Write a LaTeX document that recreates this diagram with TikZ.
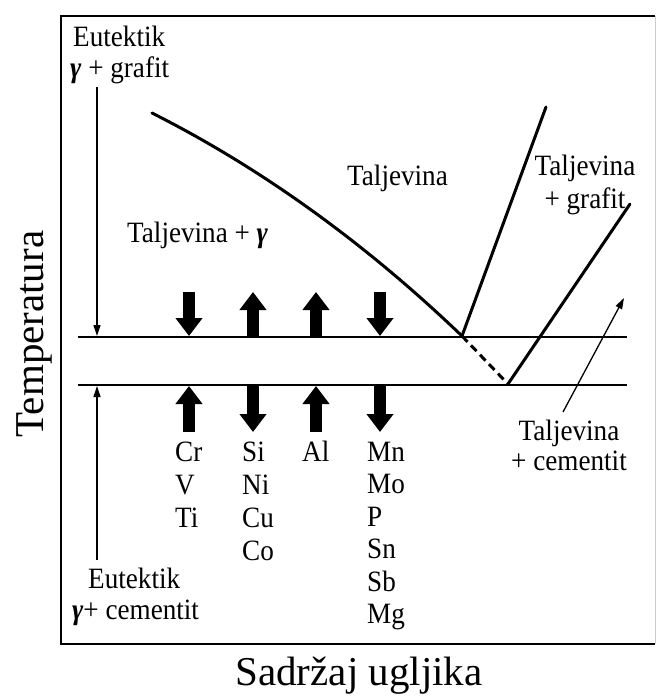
\documentclass[tikz,border=0pt]{standalone}
\usepackage{fontspec}
\setmainfont{Liberation Serif}
\newfontfamily\lblfont{Liberation Serif}[FakeStretch=0.92]
\usetikzlibrary{arrows.meta}
\begin{document}
\begin{tikzpicture}[x=1pt,y=-1pt,
  lbl/.style={font=\lblfont\fontsize{29.5}{33}\selectfont, inner sep=0pt, anchor=base west},
  lblc/.style={lbl, anchor=base},
  axislbl/.style={font=\fontsize{41}{49}\selectfont, inner sep=0pt, anchor=base},
  curve/.style={line width=3pt, line cap=round},
  level/.style={line width=2pt},
  blockarrow/.style={line width=12pt, -{Triangle[width=26pt,length=18pt]}},
  thinarrow/.style={line width=1.3pt, -{Triangle[width=7pt,length=11pt]}},
  frame/.style={line width=2.5pt}]
\useasboundingbox (0,0) rectangle (657,699);
\newcommand{\gam}{\textbf{\textit{γ}}}
% frame
\coordinate (fTR) at (655,16);
\coordinate (fTL) at (61,16);
\coordinate (fBL) at (61,644);
\coordinate (fBR) at (655,644);
\draw[frame] (fTR) -- (fTL) -- (fBL) -- (fBR);
\draw[line width=1pt, black!20] (fTR) -- (fBR);
% eutectic levels
\coordinate (gl) at (78,337);
\coordinate (gr) at (627,337);
\coordinate (cl) at (78,385);
\coordinate (cr) at (627,385);
\draw[level] (gl) -- (gr);
\draw[level] (cl) -- (cr);
% phase lines
\coordinate (ls) at (152,113);
\coordinate (ls1) at (259,167);
\coordinate (ls2) at (363,241);
\coordinate (eg) at (462,336);
\coordinate (gt) at (546,107);
\coordinate (ec) at (508,384);
\coordinate (ct) at (630,204);
\draw[curve] (ls) .. controls (ls1) and (ls2) .. (eg);
\draw[curve] (eg) -- (gt);
\draw[line width=3pt, dash pattern=on 8pt off 5pt] (eg) -- (ec);
\draw[curve] (ec) -- (ct);
% left thin arrows
\coordinate (a1s) at (97,87);
\coordinate (a1e) at (97,336);
\coordinate (a2s) at (97,560);
\coordinate (a2e) at (97,386);
\draw[thinarrow] (a1s) -- (a1e);
\draw[thinarrow] (a2s) -- (a2e);
% right thin arrow
\coordinate (r1s) at (563,412);
\coordinate (r1e) at (624,298);
\draw[thinarrow] (r1s) -- (r1e);
% block arrows
\coordinate (u1t) at (189,292); \coordinate (u1b) at (189,336);
\coordinate (u2t) at (253,292); \coordinate (u2b) at (253,336);
\coordinate (u3t) at (316,292); \coordinate (u3b) at (316,336);
\coordinate (u4t) at (380,292); \coordinate (u4b) at (380,336);
\coordinate (d1t) at (189,386); \coordinate (d1b) at (189,432);
\coordinate (d2t) at (253,386); \coordinate (d2b) at (253,432);
\coordinate (d3t) at (316,386); \coordinate (d3b) at (316,432);
\coordinate (d4t) at (380,386); \coordinate (d4b) at (380,432);
\draw[blockarrow] (u1t) -- (u1b);
\draw[blockarrow] (u2b) -- (u2t);
\draw[blockarrow] (u3b) -- (u3t);
\draw[blockarrow] (u4t) -- (u4b);
\draw[blockarrow] (d1b) -- (d1t);
\draw[blockarrow] (d2t) -- (d2b);
\draw[blockarrow] (d3b) -- (d3t);
\draw[blockarrow] (d4t) -- (d4b);
% labels
\node[lbl] (eut1) at (73,46) {Eutektik};
\node[lbl] (eut2) at (70,77) {\gam\ + grafit};
\node[lbl] (tg) at (127,242) {Taljevina + \gam};
\node[lbl] (tal) at (347,185) {Taljevina};
\node[lblc] (tgr1) at (585,175) {Taljevina};
\node[lblc] (tgr2) at (585,208) {+ grafit};
\node[lblc] (tce1) at (569,440) {Taljevina};
\node[lblc] (tce2) at (569,470) {+ cementit};
\node[lbl] (eut3) at (88,588) {Eutektik};
\node[lbl] (eut4) at (72,619) {\gam+ cementit};
% element columns
\node[lbl] (cr) at (175,461) {Cr};
\node[lbl] (v) at (175,494) {V};
\node[lbl] (ti) at (175,527) {Ti};
\node[lbl] (si) at (242,461) {Si};
\node[lbl] (ni) at (242,494) {Ni};
\node[lbl] (cu) at (242,527) {Cu};
\node[lbl] (co) at (242,560) {Co};
\node[lbl] (al) at (302,461) {Al};
\node[lbl] (mn) at (367,461) {Mn};
\node[lbl] (mo) at (367,493) {Mo};
\node[lbl] (p) at (367,526) {P};
\node[lbl] (sn) at (367,558) {Sn};
\node[lbl] (sb) at (367,591) {Sb};
\node[lbl] (mg) at (367,623) {Mg};
% axes
\node[axislbl] (xax) at (359,685) {Sadržaj ugljika};
\node[axislbl, rotate=90] (yax) at (43,334) {Temperatura};
\end{tikzpicture}
\end{document}
